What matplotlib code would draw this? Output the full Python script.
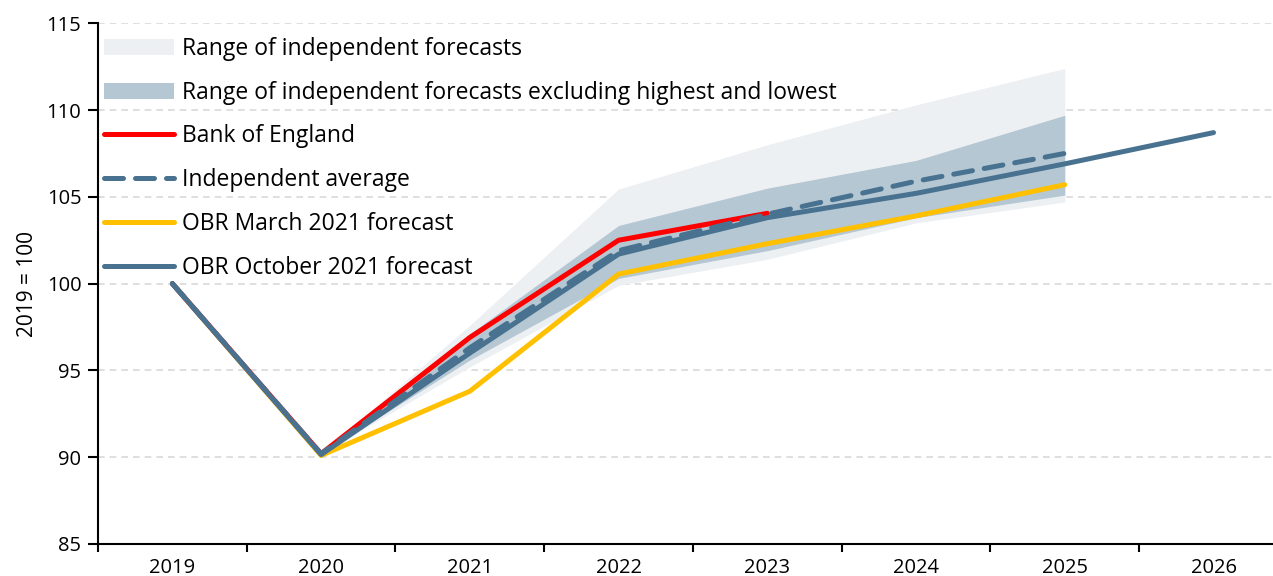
import numpy as np
import matplotlib.pyplot as plt

plt.rcParams['font.family'] = ['Open Sans', 'DejaVu Sans']

# categories
years = ['2019', '2020', '2021', '2022', '2023', '2024', '2025', '2026']

# forecasts, index 2019 = 100
boe = [100, 90.2, 96.9, 102.5, 104.05]
indep_avg = [100, 90.2, 96.3, 101.9, 104.0, 105.9, 107.5]
obr_march = [100, 90.1, 93.8, 100.55, 102.3, 103.9, 105.7]
obr_oct = [100, 90.15, 96.0, 101.7, 103.8, 105.2, 106.9, 108.7]

# ranges of independent forecasts
range_hi = [100, 90.2, 97.6, 105.45, 108.0, 110.3, 112.4]
range_lo = [100, 90.2, 95.2, 99.9, 101.4, 103.5, 104.7]
range_ex_hi = [100, 90.2, 97.1, 103.35, 105.5, 107.1, 109.7]
range_ex_lo = [100, 90.2, 95.6, 100.3, 101.9, 103.8, 105.1]

blue = '#48728f'
red = '#ff0000'
yellow = '#ffc000'

fig = plt.figure(figsize=(12.73, 5.76), dpi=100)
ax = fig.add_axes([0.077, 0.0556, 0.923, 0.904])

x = np.arange(len(years))

ax.fill_between(x[:len(range_hi)], range_lo, range_hi, color='#edf0f3', lw=0,
                label='Range of independent forecasts')
ax.fill_between(x[:len(range_ex_hi)], range_ex_lo, range_ex_hi, color='#b5c7d3', lw=0,
                label='Range of independent forecasts excluding highest and lowest')
l_boe, = ax.plot(x[:len(boe)], boe, color=red, lw=3.6, zorder=4, label='Bank of England')
l_avg, = ax.plot(x[:len(indep_avg)], indep_avg, color=blue, lw=3.6, dashes=(3.8, 2.4),
                 zorder=5, label='Independent average')
l_mar, = ax.plot(x[:len(obr_march)], obr_march, color=yellow, lw=3.6, zorder=3,
                 label='OBR March 2021 forecast')
l_oct, = ax.plot(x, obr_oct, color=blue, lw=3.6, zorder=6, label='OBR October 2021 forecast')
for l in (l_boe, l_avg, l_mar, l_oct):
    l.set_solid_capstyle('round')
    l.set_dash_capstyle('round')

ax.set_ylim(85, 115)
ax.set_yticks(np.arange(85, 116, 5))
ax.set_xlim(-0.5, 7.4)
ax.set_xticks(np.arange(-0.5, 7.5, 1))
ax.set_xticklabels([])
ax.set_xticks(x, minor=True)
ax.set_xticklabels(years, minor=True)
ax.tick_params(axis='x', which='major', length=6, width=1.5, direction='out')
ax.tick_params(axis='x', which='minor', length=0, pad=10, labelsize=14.5)
ax.tick_params(axis='y', length=7, width=1.5, labelsize=14.5, pad=5)
ax.grid(axis='y', color='#d9d9d9', ls=(0, (4, 3)), lw=1.2)
ax.set_axisbelow(True)
for s in ('top', 'right'):
    ax.spines[s].set_visible(False)
for s in ('left', 'bottom'):
    ax.spines[s].set_linewidth(1.5)
ax.set_ylabel('2019 = 100', fontsize=15, labelpad=6)

ax.legend(loc='upper left', bbox_to_anchor=(0.0, 1 - 8 / 521), frameon=False, fontsize=16.5,
          handlelength=3.05, labelspacing=0.86, handletextpad=0.35, borderaxespad=0.0,
          borderpad=0.25)

fig.savefig('out.png', dpi=100)
